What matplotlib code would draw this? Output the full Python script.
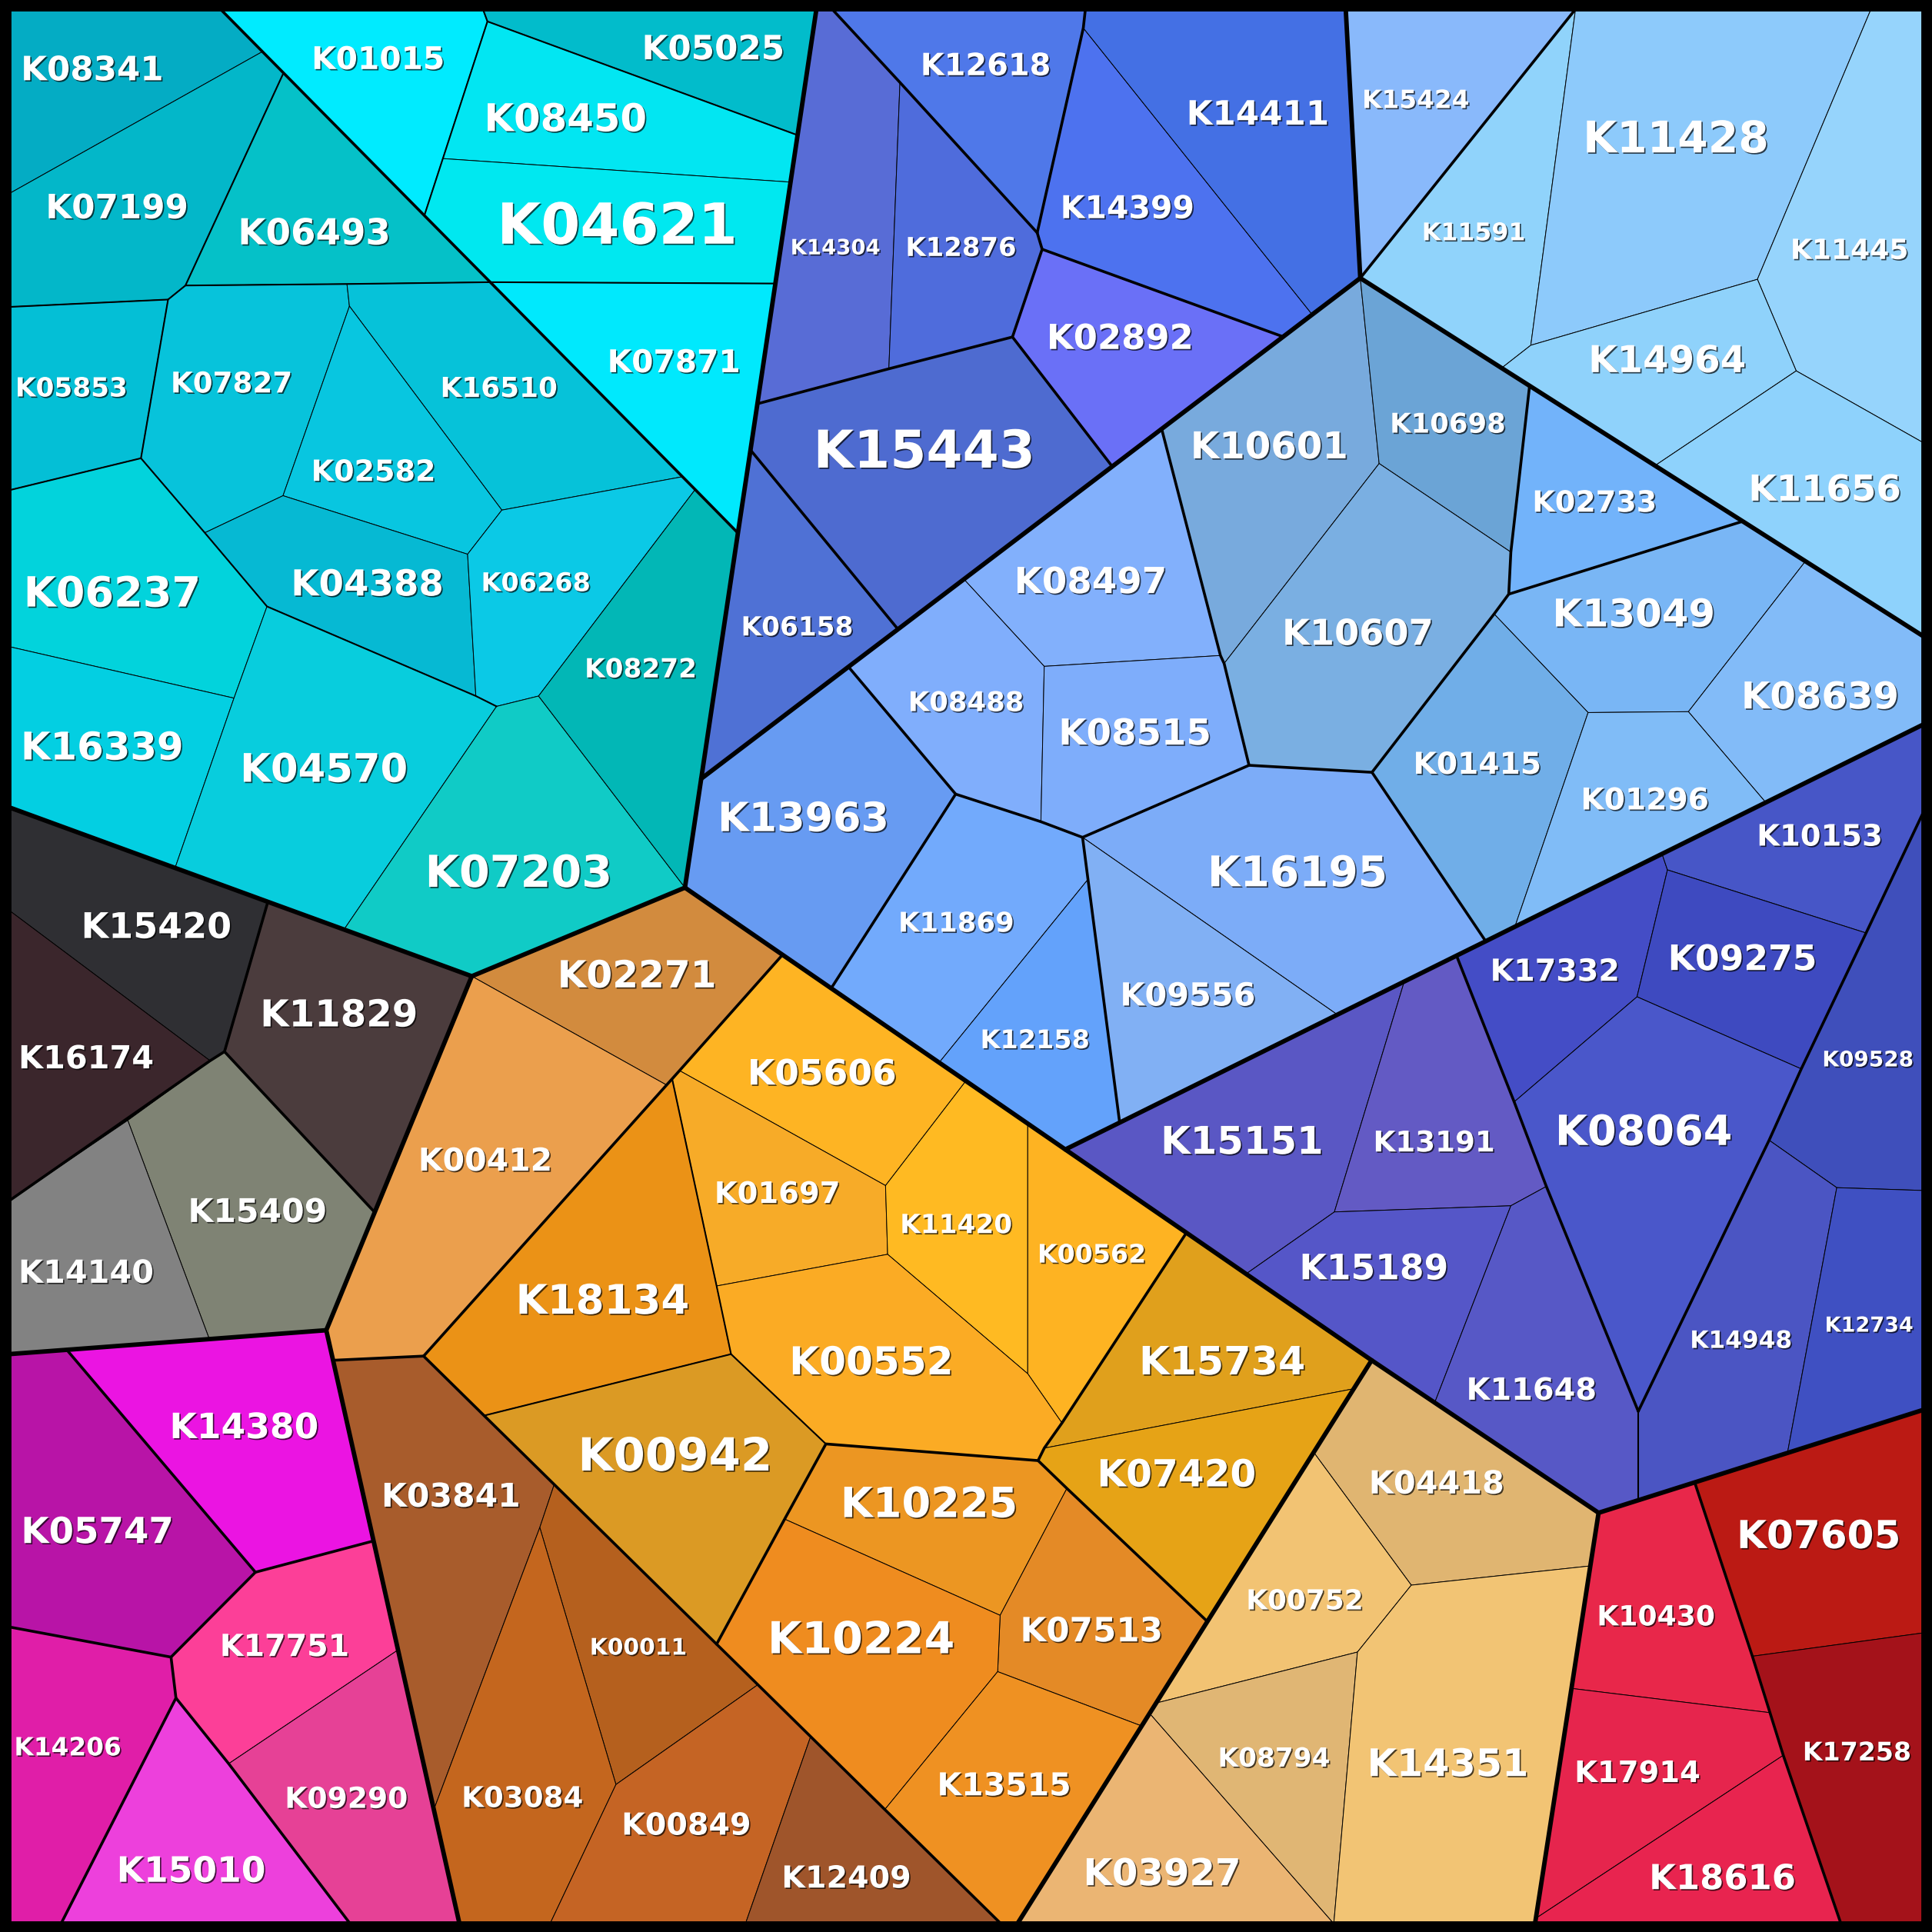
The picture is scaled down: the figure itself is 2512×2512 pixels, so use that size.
import matplotlib.pyplot as plt
import matplotlib.patheffects as pe
from matplotlib.patches import Polygon, Rectangle

# frame inner edges (picture units, y grows downward)
E0, E1 = 7.4, 1561.3

# junction points of the Voronoi treemap
pts = {
    'TL': (E0, E0), 'TR': (E1, E0), 'BL': (E0, E1), 'BR': (E1, E1),
    # cyan block
    'c1': (178.9, 7.4), 'c2': (213.0, 41.9), 'c3': (7.4, 157.2), 'c4': (230.1, 59.2),
    'c5': (150.5, 231.7), 'c6': (136.4, 243.1), 'c7': (7.4, 249.1), 'c8': (397.9, 229.0),
    'c9': (281.6, 230.5), 'c10': (283.6, 248.5), 'c11': (114.4, 371.9), 'c12': (7.4, 397.9),
    'c13': (166.2, 432.4), 'c14': (229.7, 402.3), 'c15': (379.5, 449.8), 'c16': (407.3, 414.0),
    'c17': (553.9, 386.9), 'c18': (564.2, 397.3), 'c19': (598.9, 432.6), 'c20': (386.2, 564.9),
    'c21': (403.0, 573.3), 'c22': (437.1, 564.9), 'c23': (216.7, 492.2), 'c24': (189.9, 566.6),
    'c25': (7.4, 524.8), 'c26': (142.1, 704.4), 'c27': (7.4, 655.2), 'c28': (279.2, 754.4),
    'c29': (382.9, 792.3), 'c30': (555.9, 720.4), 'c31': (391.9, 7.4), 'c32': (395.6, 17.4),
    'c33': (344.4, 174.9), 'c34': (662.6, 7.4), 'c35': (647.3, 109.7), 'c36': (641.6, 147.8),
    'c37': (359.4, 128.7), 'c38': (629.3, 230.1), 'c39': (217.4, 731.9),
    # grey block
    'g1': (182.2, 853.5), 'g2': (170.5, 860.9), 'g3': (7.4, 738.8), 'g4': (7.4, 974.6),
    'g5': (103.7, 909.3), 'g6': (304.1, 983.9), 'g7': (264.8, 1079.6), 'g8': (169.9, 1086.8),
    'g9': (7.4, 1099.0),
    # magenta block
    'm1': (54.2, 1095.5), 'm2': (207.3, 1276.0), 'm3': (303.2, 1250.6), 'm4': (323.0, 1339.1),
    'm5': (138.8, 1344.9), 'm6': (7.4, 1320.4), 'm7': (142.8, 1378.1), 'm8': (185.6, 1431.4),
    'm9': (284.2, 1561.3), 'm10': (49.5, 1561.3), 'm11': (372.9, 1561.3),
    # orange block
    'o1': (635.1, 774.9), 'o2': (551.5, 868.9), 'o3': (545.5, 875.6), 'o4': (541.0, 880.6),
    'o5': (343.8, 1100.6), 'o6': (270.3, 1104.0), 'o7': (783.9, 877.3), 'o8': (718.7, 962.2),
    'o9': (720.4, 1018.0), 'o10': (581.6, 1043.7), 'o11': (834.1, 911.9), 'o12': (834.1, 1114.9),
    'o13': (864.6, 932.9), 'o14': (962.9, 1000.5), 'o15': (861.9, 1154.9), 'o16': (847.5, 1175.3),
    'o17': (842.5, 1185.4), 'o18': (1113.2, 1104.0), 'o19': (1098.7, 1127.1), 'o20': (593.3, 1099.0),
    'o21': (392.9, 1148.9), 'o22': (670.3, 1171.9), 'o23': (581.6, 1334.4), 'o24': (636.8, 1232.9),
    'o25': (865.9, 1208.0), 'o26': (811.7, 1311.0), 'o27': (809.7, 1356.7), 'o28': (979.9, 1316.0),
    'o29': (926.6, 1400.8), 'o30': (718.1, 1468.6), 'o31': (812.4, 1561.3), 'o32': (825.7, 1561.3),
    'o33': (449.8, 1204.8), 'o34': (438.1, 1239.7), 'o35': (352.1, 1468.7), 'o36': (615.1, 1367.3),
    'o37': (499.9, 1448.3), 'o38': (446.4, 1561.3), 'o39': (657.9, 1409.4), 'o40': (605.0, 1561.3),
    'o41': (762.2, 862.4), 'o42': (674.6, 802.1),
    # tan block
    't1': (1297.4, 1227.8), 't2': (1245.8, 1561.3), 't3': (1066.2, 1178.7), 't4': (1145.4, 1286.5),
    't5': (1290.7, 1270.9), 't6': (1101.7, 1340.8), 't7': (938.3, 1382.2), 't8': (933.0, 1390.6),
    't9': (1082.5, 1561.3),
    # red block
    'r1': (1375.4, 1203.1), 'r2': (1561.3, 1144.1), 'r3': (1561.3, 1325.2), 'r4': (1422.2, 1344.2),
    'r5': (1436.5, 1390.0), 'r6': (1447.3, 1424.6), 'r7': (1494.1, 1561.3), 'r8': (1275.4, 1370.3),
    'r9': (1246.5, 1556.9),
    # indigo block
    'i1': (1561.3, 587.8), 'i2': (1561.3, 658.5), 'i3': (1514.5, 757.2), 'i4': (1353.3, 706.0),
    'i5': (1348.9, 693.0), 'i6': (1328.6, 809.0), 'i7': (1461.9, 867.5), 'i8': (1228.9, 894.3),
    'i9': (1182.1, 775.6), 'i10': (1139.7, 796.6), 'i11': (1083.0, 983.6), 'i12': (1226.2, 978.6),
    'i13': (1255.0, 962.9), 'i14': (1011.3, 1033.9), 'i15': (1164.4, 1138.4), 'i16': (1329.6, 1145.4),
    'i17': (1329.6, 1217.6), 'i18': (1435.8, 925.4), 'i19': (1490.7, 963.9), 'i20': (1561.3, 966.2),
    'i21': (1450.7, 1179.2), 'i22': (908.7, 911.1), 'i23': (1085.4, 823.5), 'i24': (1205.8, 763.9),
    'i25': (1229.5, 752.1), 'i26': (1433.1, 651.3),
    # purple block
    'p1': (675.3, 7.4), 'p2': (730.4, 66.9), 'p3': (841.8, 188.9), 'p4': (845.8, 202.3),
    'p5': (821.7, 273.5), 'p6': (721.4, 299.3), 'p7': (614.7, 327.7), 'p8': (880.9, 7.4),
    'p9': (879.2, 22.7), 'p10': (1065.0, 255.3), 'p11': (1041.4, 273.3), 'p12': (902.7, 378.6),
    'p13': (728.8, 510.7), 'p14': (609.1, 365.2), 'p15': (569.1, 632.0), 'p16': (1092.2, 7.4),
    'p17': (1104.0, 225.7),
    # pale blue block (top right)
    'q1': (1278.7, 7.4), 'q2': (1518.5, 7.4), 'q3': (1242.4, 280.2), 'q4': (1218.7, 298.7),
    'q5': (1426.3, 226.7), 'q6': (1561.3, 359.5), 'q7': (1457.8, 301.0), 'q8': (1343.2, 377.9),
    'q9': (1561.3, 516.6),
    # light blue block (centre)
    'l1': (942.8, 348.1), 'l2': (1119.3, 376.2), 'l3': (1241.4, 313.1), 'l4': (1226.2, 448.1),
    'l5': (1224.5, 482.2), 'l6': (1414.4, 423.1), 'l7': (1465.3, 455.5), 'l8': (1212.6, 498.3),
    'l9': (1370.3, 577.6), 'l10': (1288.9, 578.3), 'l11': (1113.5, 626.8), 'l12': (1013.7, 621.1),
    'l13': (993.5, 538.5), 'l14': (990.5, 532.0), 'l15': (847.5, 540.8), 'l16': (782.3, 470.1),
    'l17': (688.6, 541.2), 'l18': (775.6, 644.5), 'l19': (844.8, 666.9), 'l20': (878.6, 679.6),
    'l21': (883.0, 713.7),
}

# cell outlines (by junction name)
cells = {
    'K08341': ['TL', 'c1', 'c2', 'c3'],
    'K07199': ['c3', 'c2', 'c4', 'c5', 'c6', 'c7'],
    'K06493': ['c4', 'c33', 'c8', 'c9', 'c5'],
    'K05853': ['c7', 'c6', 'c11', 'c12'],
    'K07827': ['c6', 'c5', 'c9', 'c10', 'c14', 'c13', 'c11'],
    'K16510': ['c9', 'c8', 'c17', 'c16', 'c10'],
    'K02582': ['c10', 'c16', 'c15', 'c14'],
    'K04388': ['c13', 'c14', 'c15', 'c20', 'c23'],
    'K06268': ['c15', 'c16', 'c17', 'c18', 'c22', 'c21', 'c20'],
    'K06237': ['c12', 'c11', 'c13', 'c23', 'c24', 'c25'],
    'K16339': ['c25', 'c24', 'c26', 'c27'],
    'K04570': ['c23', 'c20', 'c21', 'c28', 'c26', 'c24'],
    'K07203': ['c21', 'c22', 'c30', 'c29', 'c28'],
    'K08272': ['c22', 'c18', 'c19', 'c30'],
    'K01015': ['c1', 'c31', 'c32', 'c37', 'c33'],
    'K05025': ['c31', 'c34', 'c35', 'c32'],
    'K08450': ['c32', 'c35', 'c36', 'c37'],
    'K04621': ['c37', 'c36', 'c38', 'c8', 'c33'],
    'K07871': ['c8', 'c38', 'c19', 'c18', 'c17'],
    'K15420': ['c27', 'c39', 'g1', 'g2', 'g3'],
    'K16174': ['g3', 'g2', 'g4'],
    'K11829': ['c39', 'c28', 'c29', 'g6', 'g1'],
    'K15409': ['g1', 'g6', 'g7', 'g8', 'g5', 'g2'],
    'K14140': ['g4', 'g5', 'g8', 'g9'],
    'K05747': ['g9', 'm1', 'm2', 'm5', 'm6'],
    'K14380': ['m1', 'g8', 'g7', 'm3', 'm2'],
    'K17751': ['m2', 'm3', 'm4', 'm8', 'm7', 'm5'],
    'K09290': ['m8', 'm4', 'm11', 'm9'],
    'K15010': ['m7', 'm8', 'm9', 'm10'],
    'K14206': ['m6', 'm5', 'm7', 'm10', 'BL'],
    'K02271': ['c29', 'c30', 'o1', 'o4'],
    'K00412': ['c29', 'o4', 'o5', 'o6', 'g7', 'g6'],
    'K05606': ['o2', 'o1', 'o7', 'o8'],
    'K01697': ['o3', 'o2', 'o8', 'o9', 'o10'],
    'K11420': ['o8', 'o7', 'o11', 'o12', 'o9'],
    'K00562': ['o11', 'o13', 'o14', 'o15', 'o12'],
    'K18134': ['o3', 'o10', 'o20', 'o21', 'o5', 'o4'],
    'K00552': ['o10', 'o9', 'o12', 'o15', 'o16', 'o17', 'o22', 'o20'],
    'K15734': ['o14', 'o18', 'o19', 'o16', 'o15'],
    'K07420': ['o16', 'o19', 'o28', 'o25', 'o17'],
    'K00942': ['o21', 'o20', 'o22', 'o24', 'o23', 'o33'],
    'K10225': ['o22', 'o17', 'o25', 'o26', 'o24'],
    'K07513': ['o25', 'o28', 'o29', 'o27', 'o26'],
    'K10224': ['o24', 'o26', 'o27', 'o30', 'o23'],
    'K13515': ['o27', 'o29', 'o32', 'o31', 'o30'],
    'K03841': ['o6', 'o5', 'o33', 'o34', 'o35'],
    'K00011': ['o33', 'o23', 'o36', 'o37', 'o34'],
    'K03084': ['o34', 'o37', 'o38', 'm11', 'o35'],
    'K00849': ['o37', 'o36', 'o39', 'o40', 'o38'],
    'K12409': ['o39', 'o30', 'o31', 'o40'],
    'K04418': ['o18', 't1', 't5', 't4', 't3', 'o19'],
    'K00752': ['t3', 't4', 't6', 't7', 'o28'],
    'K08794': ['t7', 't6', 't9', 't8'],
    'K14351': ['t4', 't5', 't2', 't9', 't6'],
    'K03927': ['t8', 't9', 'o32', 'o29'],
    'K10430': ['t1', 'r1', 'r4', 'r5', 'r8'],
    'K07605': ['r1', 'r2', 'r3', 'r4'],
    'K17258': ['r4', 'r3', 'BR', 'r7', 'r6', 'r5'],
    'K17914': ['r8', 'r5', 'r6', 'r9'],
    'K18616': ['r6', 'r7', 't2', 'r9'],
    'K15151': ['o13', 'i22', 'i23', 'i10', 'i11', 'i14', 'o14'],
    'K13191': ['i10', 'i9', 'i8', 'i13', 'i12', 'i11'],
    'K15189': ['i14', 'i11', 'i12', 'i15', 'o18'],
    'K11648': ['i12', 'i13', 'i16', 'i17', 't1', 'i15'],
    'K17332': ['i9', 'i24', 'i25', 'i5', 'i4', 'i6', 'i8'],
    'K10153': ['i5', 'i26', 'i1', 'i2', 'i3', 'i4'],
    'K09275': ['i4', 'i3', 'i7', 'i6'],
    'K08064': ['i8', 'i6', 'i7', 'i18', 'i16', 'i13'],
    'K09528': ['i3', 'i2', 'i20', 'i19', 'i18', 'i7'],
    'K14948': ['i18', 'i19', 'i21', 'r1', 'i17', 'i16'],
    'K12734': ['i19', 'i20', 'r2', 'i21'],
    'K14304': ['c34', 'p1', 'p2', 'p6', 'p7'],
    'K12618': ['p1', 'p8', 'p9', 'p3', 'p2'],
    'K12876': ['p2', 'p3', 'p4', 'p5', 'p6'],
    'K14399': ['p9', 'p10', 'p11', 'p4', 'p3'],
    'K14411': ['p8', 'p16', 'p17', 'p10', 'p9'],
    'K02892': ['p4', 'p11', 'p12', 'p5'],
    'K15443': ['p7', 'p6', 'p5', 'p12', 'p13', 'p14'],
    'K06158': ['p14', 'p13', 'l17', 'p15', 'c19'],
    'K15424': ['p16', 'q1', 'p17'],
    'K11591': ['p17', 'q1', 'q3', 'q4'],
    'K11428': ['q1', 'q2', 'q5', 'q3'],
    'K11445': ['q2', 'TR', 'q6', 'q7', 'q5'],
    'K14964': ['q3', 'q5', 'q7', 'q8', 'l3', 'q4'],
    'K11656': ['q7', 'q6', 'q9', 'l7', 'l6', 'q8'],
    'K10601': ['l1', 'p11', 'p10', 'p17', 'l2', 'l13', 'l14'],
    'K10698': ['p17', 'q4', 'l3', 'l4', 'l2'],
    'K10607': ['l13', 'l2', 'l4', 'l5', 'l8', 'l11', 'l12'],
    'K02733': ['l3', 'q8', 'l6', 'l5', 'l4'],
    'K13049': ['l5', 'l6', 'l7', 'l9', 'l10', 'l8'],
    'K08639': ['l7', 'q9', 'i1', 'i26', 'l9'],
    'K01415': ['l8', 'l10', 'i25', 'i24', 'l11'],
    'K01296': ['l10', 'l9', 'i26', 'i5', 'i25'],
    'K16195': ['l20', 'l12', 'l11', 'i24', 'i9', 'i10', 'i23'],
    'K08497': ['l16', 'p12', 'l1', 'l14', 'l15'],
    'K08488': ['l17', 'l16', 'l15', 'l19', 'l18'],
    'K08515': ['l15', 'l14', 'l13', 'l12', 'l20', 'l19'],
    'K13963': ['p15', 'l17', 'l18', 'o42', 'o1', 'c30'],
    'K11869': ['l18', 'l19', 'l20', 'l21', 'o41', 'o42'],
    'K12158': ['l21', 'i22', 'o13', 'o11', 'o7', 'o41'],
    'K09556': ['l20', 'i23', 'i22', 'l21'],
}

colors = {
    'K08341': '#04acc4', 'K07199': '#03b7c9', 'K06493': '#05c1c8', 'K05853': '#04bfd6',
    'K07827': '#07c3db', 'K16510': '#06c2d9', 'K02582': '#08c6e0', 'K04388': '#06b9d3',
    'K06268': '#0bc9e6', 'K06237': '#02d3dc', 'K16339': '#03cfe2', 'K04570': '#08cddd',
    'K07203': '#10cbc6', 'K08272': '#02b7b6', 'K01015': '#00ebff', 'K05025': '#02bccb',
    'K08450': '#02e6f2', 'K04621': '#00e8f0', 'K07871': '#00e9fd',
    'K15420': '#2f2f33', 'K16174': '#3b262c', 'K11829': '#4b3c3d', 'K15409': '#7f8374',
    'K14140': '#828282',
    'K05747': '#b814a7', 'K14380': '#eb14e2', 'K17751': '#fc3f98', 'K09290': '#e64196',
    'K15010': '#ed40dc', 'K14206': '#e01ea8',
    'K02271': '#d28b3e', 'K00412': '#eb9f4d', 'K05606': '#feb423', 'K01697': '#f7ab28',
    'K11420': '#ffba22', 'K00562': '#feb322', 'K18134': '#eb9216', 'K00552': '#fbab24',
    'K15734': '#e0a01c', 'K07420': '#e6a316', 'K00942': '#db9a24', 'K10225': '#ec9622',
    'K07513': '#e48a26', 'K10224': '#ef8c1f', 'K13515': '#ef9122', 'K03841': '#a85c2c',
    'K00011': '#b5601e', 'K03084': '#c4661e', 'K00849': '#c56424', 'K12409': '#9f552b',
    'K04418': '#e0b571', 'K00752': '#f2c373', 'K08794': '#e0b674', 'K14351': '#f2c474',
    'K03927': '#ebb573',
    'K10430': '#e8274a', 'K07605': '#bb1a14', 'K17258': '#a4121a', 'K17914': '#e6254d',
    'K18616': '#e8244f',
    'K15151': '#5a57c4', 'K13191': '#635ac4', 'K15189': '#5556c8', 'K11648': '#5758c6',
    'K17332': '#444dc6', 'K10153': '#4756c7', 'K09275': '#3e4ac0', 'K08064': '#4a57ca',
    'K09528': '#3f4fbb', 'K14948': '#4b55c3', 'K12734': '#3f50c2',
    'K14304': '#586cd6', 'K12618': '#4f78e9', 'K12876': '#4f6cdc', 'K14399': '#4d72ef',
    'K14411': '#4470e4', 'K02892': '#6a70f7', 'K15443': '#4e6bd0', 'K06158': '#4f71d5',
    'K15424': '#89b9fb', 'K11591': '#90d3fb', 'K11428': '#8dcafb', 'K11445': '#96d4fc',
    'K14964': '#8fd2fb', 'K11656': '#8ed2fc',
    'K10601': '#78aadd', 'K10698': '#6ba4d6', 'K10607': '#7aafe2', 'K02733': '#72b3fa',
    'K13049': '#79b6f5', 'K08639': '#82bbf8', 'K01415': '#70aee8', 'K01296': '#80bcf7',
    'K16195': '#7cacf8', 'K08497': '#82b0fc', 'K08488': '#80aefc', 'K08515': '#7eadfb',
    'K13963': '#679bf2', 'K11869': '#72aafc', 'K12158': '#63a2fb', 'K09556': '#81b0f4',
}

# label anchor points and font sizes (pt)
label_at = {
    'K08341': (75, 55), 'K01015': (307, 47), 'K05025': (579, 38), 'K08450': (459, 95),
    'K04621': (501, 181), 'K07199': (95, 167), 'K06493': (255, 188), 'K07871': (547, 293),
    'K05853': (58, 314), 'K07827': (188, 310), 'K16510': (405, 314), 'K02582': (303, 382),
    'K06237': (91, 480), 'K04388': (298, 473), 'K06268': (435, 472), 'K08272': (520, 542),
    'K16339': (83, 605), 'K04570': (263, 623), 'K07203': (421, 707),
    'K15420': (127, 751), 'K11829': (275, 822), 'K16174': (70, 858), 'K15409': (209, 982),
    'K14140': (70, 1032),
    'K14380': (198, 1157), 'K05747': (79, 1242), 'K17751': (231, 1335), 'K14206': (55, 1417),
    'K09290': (281, 1459), 'K15010': (155, 1517),
    'K02271': (517, 790), 'K00412': (394, 941), 'K05606': (667, 870), 'K01697': (631, 968),
    'K11420': (776, 993), 'K00562': (886, 1017), 'K18134': (489, 1054), 'K00552': (707, 1104),
    'K15734': (992, 1104), 'K00942': (548, 1180), 'K10225': (754, 1219), 'K07420': (955, 1195),
    'K03841': (366, 1213), 'K00011': (518, 1336), 'K10224': (699, 1329), 'K07513': (886, 1322),
    'K03084': (424, 1458), 'K00849': (557, 1480), 'K13515': (815, 1448), 'K12409': (687, 1523),
    'K04418': (1166, 1203), 'K00752': (1059, 1298), 'K08794': (1034, 1426), 'K14351': (1175, 1430),
    'K03927': (943, 1519),
    'K07605': (1476, 1245), 'K10430': (1344, 1311), 'K17914': (1329, 1438), 'K17258': (1507, 1421),
    'K18616': (1398, 1523),
    'K15151': (1008, 925), 'K13191': (1164, 926), 'K08064': (1334, 917), 'K15189': (1115, 1028),
    'K11648': (1243, 1127), 'K14948': (1413, 1087), 'K12734': (1517, 1075), 'K10153': (1477, 678),
    'K17332': (1262, 787), 'K09275': (1414, 777), 'K09528': (1516, 859),
    'K12618': (800, 52), 'K14411': (1021, 91), 'K14304': (678, 200), 'K12876': (780, 200),
    'K14399': (915, 168), 'K02892': (909, 273), 'K15443': (750, 364), 'K06158': (647, 508),
    'K15424': (1149, 80), 'K11591': (1196, 188), 'K11428': (1360, 111), 'K11445': (1501, 202),
    'K14964': (1353, 291), 'K11656': (1481, 396),
    'K10601': (1030, 361), 'K10698': (1175, 343), 'K02733': (1294, 407), 'K08497': (885, 471),
    'K10607': (1102, 513), 'K13049': (1326, 497), 'K08488': (784, 569), 'K08515': (921, 594),
    'K08639': (1477, 564), 'K13963': (652, 663), 'K01415': (1199, 619), 'K01296': (1335, 648),
    'K16195': (1053, 707), 'K11869': (776, 748), 'K09556': (964, 807), 'K12158': (840, 843),
}

label_pt = {
    'K08341': 31.4, 'K01015': 29.3, 'K05025': 31.4, 'K08450': 35.8, 'K04621': 52.9,
    'K07199': 31.4, 'K06493': 33.6, 'K07871': 29.3, 'K05853': 24.7, 'K07827': 26.8,
    'K16510': 25.8, 'K02582': 27.4, 'K06237': 39.0, 'K04388': 33.6, 'K06268': 24.1,
    'K08272': 24.7, 'K16339': 35.8, 'K04570': 36.9, 'K07203': 41.2,
    'K15420': 33.1, 'K11829': 34.7, 'K16174': 29.8, 'K15409': 30.6, 'K14140': 29.8,
    'K14380': 32.8, 'K05747': 33.6, 'K17751': 28.5, 'K14206': 23.6, 'K09290': 27.1,
    'K15010': 32.8,
    'K02271': 35.0, 'K00412': 29.5, 'K05606': 32.8, 'K01697': 27.7, 'K11420': 24.7,
    'K00562': 23.9, 'K18134': 38.2, 'K00552': 36.1, 'K15734': 36.6, 'K00942': 42.8,
    'K10225': 39.0, 'K07420': 35.0, 'K03841': 30.6, 'K00011': 21.4, 'K10224': 41.2,
    'K07513': 31.4, 'K03084': 26.8, 'K00849': 28.5, 'K13515': 29.5, 'K12409': 28.5,
    'K04418': 29.8, 'K00752': 25.8, 'K08794': 24.7, 'K14351': 35.5, 'K03927': 34.7,
    'K07605': 36.1, 'K10430': 26.0, 'K17914': 27.7, 'K17258': 23.9, 'K18616': 32.3,
    'K15151': 35.8, 'K13191': 26.8, 'K08064': 39.0, 'K15189': 32.8, 'K11648': 28.7,
    'K14948': 22.5, 'K12734': 19.5, 'K10153': 27.7, 'K17332': 28.5, 'K09275': 32.8,
    'K09528': 20.1,
    'K12618': 28.7, 'K14411': 31.4, 'K14304': 19.8, 'K12876': 24.4, 'K14399': 29.5,
    'K02892': 32.3, 'K15443': 48.8, 'K06158': 24.7,
    'K15424': 23.6, 'K11591': 22.8, 'K11428': 40.9, 'K11445': 26.0, 'K14964': 34.7,
    'K11656': 33.6,
    'K10601': 34.7, 'K10698': 25.5, 'K02733': 27.4, 'K08497': 33.6, 'K10607': 33.3,
    'K13049': 35.8, 'K08488': 25.5, 'K08515': 33.6, 'K08639': 34.7, 'K13963': 37.7,
    'K01415': 28.2, 'K01296': 28.2, 'K16195': 39.6, 'K11869': 25.5, 'K09556': 29.8,
    'K12158': 24.1,
}

# group borders, heaviest first
level1 = [
    ['c27', 'c26', 'c39', 'c28', 'c29', 'c30'],
    ['c34', 'c35', 'c36', 'c38', 'p7', 'p14', 'c19', 'p15', 'c30'],
    ['c30', 'o1', 'o42', 'o41', 'o7', 'o11', 'o13', 'o14', 'i14', 'o18', 'i15', 't1',
     'i17', 'r1', 'i21', 'r2'],
    ['c29', 'g6', 'g7', 'o6', 'o35', 'm11'],
    ['g9', 'm1', 'g8', 'g7'],
    ['o18', 'o19', 't3', 'o28', 't7', 't8', 'o29', 'o32'],
    ['t1', 't5', 'r8', 'r9', 't2'],
    ['p15', 'l17', 'p13', 'l16', 'p12', 'l1', 'p11', 'p10', 'p17', 'q4', 'l3', 'q8',
     'l6', 'l7', 'q9'],
    ['p16', 'p17'],
    ['o13', 'i22', 'i23', 'i10', 'i9', 'i24', 'i25', 'i5', 'i26', 'i1'],
]
level2 = [
    ['c1', 'c2', 'c4', 'c33', 'c8', 'c17', 'c18', 'c19'],
    ['c39', 'g1', 'g6'], ['g1', 'g2', 'g4'],
    ['m1', 'm2', 'm3'], ['m2', 'm5', 'm6'], ['m5', 'm7', 'm10'], ['m7', 'm8', 'm9'],
    ['o1', 'o2', 'o3', 'o4', 'o5'], ['o6', 'o5'],
    ['o5', 'o21', 'o33', 'o23', 'o36', 'o39', 'o30', 'o31'],
    ['o23', 'o24', 'o22', 'o17', 'o16', 'o15', 'o14'], ['o17', 'o25', 'o28'],
    ['r1', 'r4', 'r5', 'r6', 'r7'],
    ['i9', 'i8', 'i13', 'i16'], ['i2', 'i3', 'i7', 'i18', 'i16'],
    ['p1', 'p2', 'p3'], ['p8', 'p9', 'p3'], ['p3', 'p4'], ['p4', 'p11'],
    ['p4', 'p5', 'p12'], ['p7', 'p6', 'p5'], ['p14', 'p13'],
    ['q1', 'p17'],
    ['l1', 'l14', 'l13', 'l12', 'l11', 'l8', 'l5', 'l4', 'l3'], ['l5', 'l6'],
    ['l11', 'i24'], ['l17', 'l18', 'o42'], ['l18', 'l19', 'l20', 'l21', 'i22'],
    ['l20', 'l12'],
]
level3 = [
    ['c4', 'c5', 'c6', 'c7'], ['c5', 'c9', 'c8'], ['c6', 'c11', 'c12'],
    ['c11', 'c13', 'c23', 'c20', 'c21'], ['c32', 'c35'], ['c31', 'c32', 'c33'],
    ['c8', 'c38'],
    ['o3', 'o10', 'o20', 'o21'], ['o20', 'o22'],
    ['i16', 'i17'],
]

fig = plt.figure(figsize=(25.12, 25.12), dpi=100, facecolor='black')
ax = fig.add_axes([0, 0, 1, 1])
ax.set_xlim(0, 1568)
ax.set_ylim(1568, 0)
ax.axis('off')

for name, ring in cells.items():
    ax.add_patch(Polygon([pts[k] for k in ring], closed=True, facecolor=colors[name],
                         edgecolor='black', linewidth=0.7, joinstyle='round'))

for lw, chains in ((1.5, level3), (2.6, level2), (4.2, level1)):
    for ch in chains:
        xs = [pts[k][0] for k in ch]
        ys = [pts[k][1] for k in ch]
        ax.plot(xs, ys, color='black', lw=lw, solid_capstyle='round',
                solid_joinstyle='round')

ax.add_patch(Rectangle((E0, E0), E1 - E0, E1 - E0, fill=False, edgecolor='black', lw=4.2))

shadow = [pe.withSimplePatchShadow(offset=(1.2, -1.2), shadow_rgbFace='black', alpha=0.7)]
for name, (x, y) in label_at.items():
    fs = label_pt[name]
    # nudge down: 'center' alignment includes the descender space
    ax.text(x, y + 0.075 * fs, name, ha='center', va='center', color='white',
            fontweight='bold', fontsize=fs, family='DejaVu Sans', path_effects=shadow)

fig.savefig('out.png', dpi=100, facecolor='black')
